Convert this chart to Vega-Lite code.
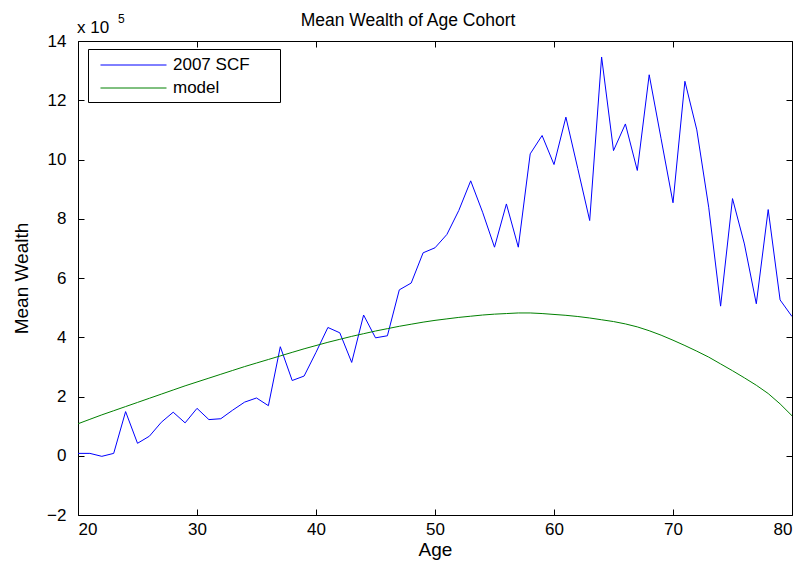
{
  "$schema": "https://vega.github.io/schema/vega-lite/v6.json",
  "width": 714,
  "height": 474,
  "autosize": "none",
  "padding": {"left": 78, "top": 41, "right": 14, "bottom": 54},
  "background": "white",
  "config": {
    "font": "Liberation Sans",
    "view": {"stroke": "black", "strokeWidth": 1},
    "axis": {
      "grid": false,
      "domain": false,
      "tickColor": "black",
      "tickSize": -6,
      "tickWidth": 1,
      "labelColor": "black",
      "labelFont": "Liberation Sans",
      "labelFontSize": 17,
      "titleFont": "Liberation Sans",
      "titleFontSize": 19,
      "titleFontWeight": "normal",
      "titleColor": "black"
    }
  },
  "title": {"text": "Mean Wealth of Age Cohort", "fontSize": 17.5, "fontWeight": "normal", "font": "Liberation Sans", "color": "black", "offset": -16, "dx": -27},
  "datasets": {
    "w": [
      {"age": 20, "series": "2007 SCF", "wealth": 0.08},
      {"age": 21, "series": "2007 SCF", "wealth": 0.08},
      {"age": 22, "series": "2007 SCF", "wealth": -0.02},
      {"age": 23, "series": "2007 SCF", "wealth": 0.08},
      {"age": 24, "series": "2007 SCF", "wealth": 1.49},
      {"age": 25, "series": "2007 SCF", "wealth": 0.42},
      {"age": 26, "series": "2007 SCF", "wealth": 0.66},
      {"age": 27, "series": "2007 SCF", "wealth": 1.13},
      {"age": 28, "series": "2007 SCF", "wealth": 1.47},
      {"age": 29, "series": "2007 SCF", "wealth": 1.11},
      {"age": 30, "series": "2007 SCF", "wealth": 1.6},
      {"age": 31, "series": "2007 SCF", "wealth": 1.22},
      {"age": 32, "series": "2007 SCF", "wealth": 1.25},
      {"age": 33, "series": "2007 SCF", "wealth": 1.54},
      {"age": 34, "series": "2007 SCF", "wealth": 1.81},
      {"age": 35, "series": "2007 SCF", "wealth": 1.95},
      {"age": 36, "series": "2007 SCF", "wealth": 1.69},
      {"age": 37, "series": "2007 SCF", "wealth": 3.68},
      {"age": 38, "series": "2007 SCF", "wealth": 2.54},
      {"age": 39, "series": "2007 SCF", "wealth": 2.69},
      {"age": 40, "series": "2007 SCF", "wealth": 3.49},
      {"age": 41, "series": "2007 SCF", "wealth": 4.33},
      {"age": 42, "series": "2007 SCF", "wealth": 4.15},
      {"age": 43, "series": "2007 SCF", "wealth": 3.15},
      {"age": 44, "series": "2007 SCF", "wealth": 4.75},
      {"age": 45, "series": "2007 SCF", "wealth": 3.98},
      {"age": 46, "series": "2007 SCF", "wealth": 4.05},
      {"age": 47, "series": "2007 SCF", "wealth": 5.6},
      {"age": 48, "series": "2007 SCF", "wealth": 5.83},
      {"age": 49, "series": "2007 SCF", "wealth": 6.85},
      {"age": 50, "series": "2007 SCF", "wealth": 7.02},
      {"age": 51, "series": "2007 SCF", "wealth": 7.47},
      {"age": 52, "series": "2007 SCF", "wealth": 8.28},
      {"age": 53, "series": "2007 SCF", "wealth": 9.28},
      {"age": 54, "series": "2007 SCF", "wealth": 8.22},
      {"age": 55, "series": "2007 SCF", "wealth": 7.04},
      {"age": 56, "series": "2007 SCF", "wealth": 8.5},
      {"age": 57, "series": "2007 SCF", "wealth": 7.04},
      {"age": 58, "series": "2007 SCF", "wealth": 10.19},
      {"age": 59, "series": "2007 SCF", "wealth": 10.81},
      {"age": 60, "series": "2007 SCF", "wealth": 9.83},
      {"age": 61, "series": "2007 SCF", "wealth": 11.43},
      {"age": 62, "series": "2007 SCF", "wealth": 9.69},
      {"age": 63, "series": "2007 SCF", "wealth": 7.94},
      {"age": 64, "series": "2007 SCF", "wealth": 13.46},
      {"age": 65, "series": "2007 SCF", "wealth": 10.3},
      {"age": 66, "series": "2007 SCF", "wealth": 11.2},
      {"age": 67, "series": "2007 SCF", "wealth": 9.63},
      {"age": 68, "series": "2007 SCF", "wealth": 12.86},
      {"age": 69, "series": "2007 SCF", "wealth": 10.7},
      {"age": 70, "series": "2007 SCF", "wealth": 8.54},
      {"age": 71, "series": "2007 SCF", "wealth": 12.64},
      {"age": 72, "series": "2007 SCF", "wealth": 11.0},
      {"age": 73, "series": "2007 SCF", "wealth": 8.39},
      {"age": 74, "series": "2007 SCF", "wealth": 5.05},
      {"age": 75, "series": "2007 SCF", "wealth": 8.68},
      {"age": 76, "series": "2007 SCF", "wealth": 7.15},
      {"age": 77, "series": "2007 SCF", "wealth": 5.13},
      {"age": 78, "series": "2007 SCF", "wealth": 8.31},
      {"age": 79, "series": "2007 SCF", "wealth": 5.26},
      {"age": 80, "series": "2007 SCF", "wealth": 4.7},
      {"age": 20, "series": "model", "wealth": 1.08},
      {"age": 21, "series": "model", "wealth": 1.23},
      {"age": 22, "series": "model", "wealth": 1.38},
      {"age": 23, "series": "model", "wealth": 1.52},
      {"age": 24, "series": "model", "wealth": 1.66},
      {"age": 25, "series": "model", "wealth": 1.8},
      {"age": 26, "series": "model", "wealth": 1.94},
      {"age": 27, "series": "model", "wealth": 2.08},
      {"age": 28, "series": "model", "wealth": 2.22},
      {"age": 29, "series": "model", "wealth": 2.36},
      {"age": 30, "series": "model", "wealth": 2.49},
      {"age": 31, "series": "model", "wealth": 2.62},
      {"age": 32, "series": "model", "wealth": 2.75},
      {"age": 33, "series": "model", "wealth": 2.88},
      {"age": 34, "series": "model", "wealth": 3.01},
      {"age": 35, "series": "model", "wealth": 3.13},
      {"age": 36, "series": "model", "wealth": 3.25},
      {"age": 37, "series": "model", "wealth": 3.37},
      {"age": 38, "series": "model", "wealth": 3.49},
      {"age": 39, "series": "model", "wealth": 3.61},
      {"age": 40, "series": "model", "wealth": 3.72},
      {"age": 41, "series": "model", "wealth": 3.83},
      {"age": 42, "series": "model", "wealth": 3.93},
      {"age": 43, "series": "model", "wealth": 4.03},
      {"age": 44, "series": "model", "wealth": 4.12},
      {"age": 45, "series": "model", "wealth": 4.21},
      {"age": 46, "series": "model", "wealth": 4.29},
      {"age": 47, "series": "model", "wealth": 4.37},
      {"age": 48, "series": "model", "wealth": 4.44},
      {"age": 49, "series": "model", "wealth": 4.51},
      {"age": 50, "series": "model", "wealth": 4.57},
      {"age": 51, "series": "model", "wealth": 4.62},
      {"age": 52, "series": "model", "wealth": 4.67},
      {"age": 53, "series": "model", "wealth": 4.71},
      {"age": 54, "series": "model", "wealth": 4.75},
      {"age": 55, "series": "model", "wealth": 4.78},
      {"age": 56, "series": "model", "wealth": 4.8},
      {"age": 57, "series": "model", "wealth": 4.82},
      {"age": 58, "series": "model", "wealth": 4.82},
      {"age": 59, "series": "model", "wealth": 4.8},
      {"age": 60, "series": "model", "wealth": 4.77},
      {"age": 61, "series": "model", "wealth": 4.74},
      {"age": 62, "series": "model", "wealth": 4.7},
      {"age": 63, "series": "model", "wealth": 4.65},
      {"age": 64, "series": "model", "wealth": 4.59},
      {"age": 65, "series": "model", "wealth": 4.53},
      {"age": 66, "series": "model", "wealth": 4.45},
      {"age": 67, "series": "model", "wealth": 4.35},
      {"age": 68, "series": "model", "wealth": 4.22},
      {"age": 69, "series": "model", "wealth": 4.07},
      {"age": 70, "series": "model", "wealth": 3.9},
      {"age": 71, "series": "model", "wealth": 3.72},
      {"age": 72, "series": "model", "wealth": 3.53},
      {"age": 73, "series": "model", "wealth": 3.33},
      {"age": 74, "series": "model", "wealth": 3.1},
      {"age": 75, "series": "model", "wealth": 2.87},
      {"age": 76, "series": "model", "wealth": 2.63},
      {"age": 77, "series": "model", "wealth": 2.38},
      {"age": 78, "series": "model", "wealth": 2.1},
      {"age": 79, "series": "model", "wealth": 1.75},
      {"age": 80, "series": "model", "wealth": 1.35}
    ],
    "one": [{}]
  },
  "data": {"name": "w"},
  "layer": [
    {
      "mark": {"type": "line", "strokeWidth": 1, "clip": true},
      "encoding": {
        "x": {"field": "age", "type": "quantitative", "scale": {"domain": [20, 80], "nice": false, "zero": false},
              "axis": {"values": [20, 30, 40, 50, 60, 70, 80], "title": "Age", "labelPadding": 12, "titlePadding": 3}},
        "y": {"field": "wealth", "type": "quantitative", "scale": {"domain": [-2, 14], "nice": false, "zero": false},
              "axis": {"values": [-2, 0, 2, 4, 6, 8, 10, 12, 14], "title": "Mean Wealth", "labelPadding": 18, "titlePadding": 15}},
        "color": {"field": "series", "type": "nominal",
                  "scale": {"domain": ["2007 SCF", "model"], "range": ["#0000ff", "#008000"]},
                  "legend": {"orient": "none", "legendX": 10, "legendY": 8, "title": null,
                             "strokeColor": "black", "fillColor": "white", "padding": 6,
                             "symbolType": "M-0.37,0H6.58", "symbolSize": 361, "symbolStrokeWidth": 1,
                             "labelFontSize": 17, "labelFont": "Liberation Sans", "labelColor": "black",
                             "labelOffset": 59, "rowPadding": 5, "cornerRadius": 0,
                             "labelExpr": "datum.label + '\u2800\u2800'"}}
      }
    },
    {
      "mark": {"type": "line", "opacity": 0},
      "encoding": {
        "x": {"field": "age", "type": "quantitative",
              "axis": {"orient": "top", "values": [20, 30, 40, 50, 60, 70, 80], "labels": false, "title": null}},
        "y": {"field": "wealth", "type": "quantitative",
              "axis": {"orient": "right", "values": [-2, 0, 2, 4, 6, 8, 10, 12, 14], "labels": false, "title": null}},
        "detail": {"field": "series"}
      }
    },
    {
      "data": {"name": "one"},
      "mark": {"type": "text", "align": "left", "baseline": "alphabetic", "fontSize": 17, "font": "Liberation Sans", "color": "black", "dy": -8, "dx": -1},
      "encoding": {"x": {"datum": 20, "axis": null}, "y": {"datum": 14, "axis": null}, "text": {"value": "x 10"}}
    },
    {
      "data": {"name": "one"},
      "mark": {"type": "text", "align": "left", "baseline": "alphabetic", "fontSize": 12, "font": "Liberation Sans", "color": "black", "dy": -18, "dx": 40},
      "encoding": {"x": {"datum": 20, "axis": null}, "y": {"datum": 14, "axis": null}, "text": {"value": "5"}}
    }
  ],
  "resolve": {"axis": {"x": "independent", "y": "independent"}}
}
